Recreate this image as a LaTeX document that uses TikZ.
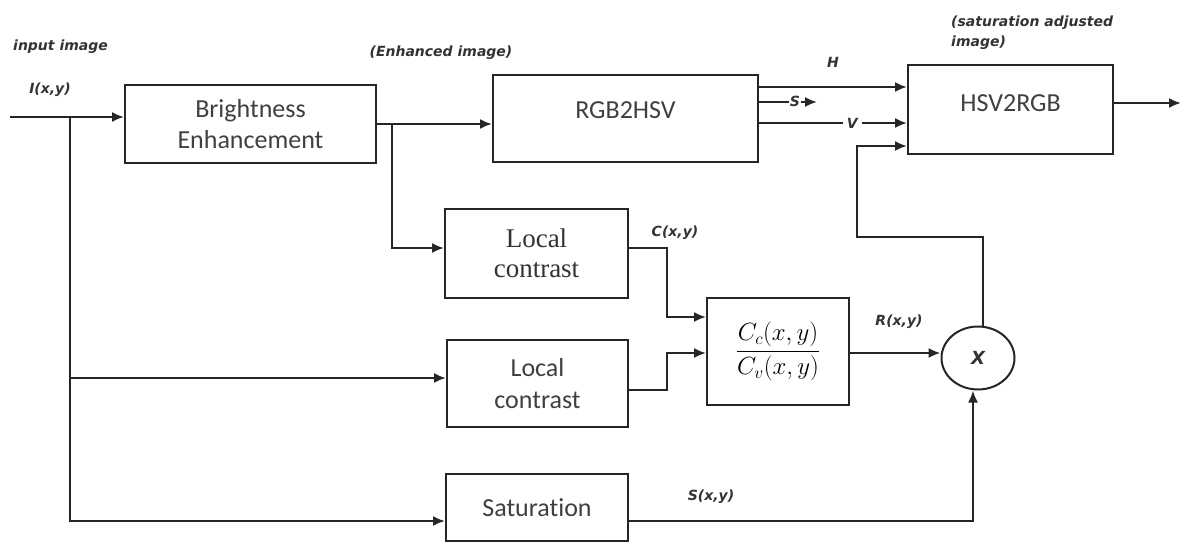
\documentclass[tikz,border=0pt]{standalone}
\usepackage[no-math]{fontspec}
\setmainfont{Carlito}[Ligatures=NoCommon]
\newfontfamily\lblfont{DejaVu Sans}
\newfontfamily\serffont{Liberation Serif}
\usetikzlibrary{arrows.meta,shapes.geometric}
\tikzset{
  ln/.style={line width=2pt, draw=black!85},
  arr/.style={ln, -{Latex[length=12pt,width=10pt]}},
  box/.style={draw=black!85, line width=2pt, inner sep=0pt, fill=white},
  txt/.style={font=\fontsize{26}{30}\selectfont, text=black!75},
  serif/.style={font=\serffont\fontsize{27}{30}\selectfont, text=black!80},
  lbl/.style={font=\lblfont\bfseries\itshape\fontsize{14}{16}\selectfont, text=black!80, inner sep=1pt},
}
\begin{document}
\begin{tikzpicture}[x=1pt,y=-1pt]
\useasboundingbox (0,0) rectangle (1181,555);
% boxes
\node[box, txt, minimum width=251pt, minimum height=78pt, align=center] (be) at (250.5,124) {Brightness\\[1pt]Enhancement};
\node[box, minimum width=265pt, minimum height=87pt] (rgb) at (625.5,118.5) {};
\node[txt] (rgbt) at (625.5,110) {RGB2HSV};
\node[box, minimum width=205pt, minimum height=89pt] (hsv) at (1010.5,109.5) {};
\node[txt] (hsvt) at (1010.5,103) {HSV2RGB};
\node[box, serif, minimum width=183pt, minimum height=89pt, align=center] (lc1) at (536.5,253.5) {Local\\[0pt]contrast};
\node[box, txt, minimum width=181pt, minimum height=87pt, align=center] (lc2) at (537.5,383.5) {Local\\[2pt]contrast};
\node[box, minimum width=142pt, minimum height=107pt, font=\fontsize{24}{28}\selectfont] (frac) at (778,351.5) {$\displaystyle\frac{C_c(x,y)}{C_v(x,y)}$};
\node[box, txt, minimum width=182pt, minimum height=67pt] (sat) at (537,507.5) {Saturation};
\node[draw=black!85, line width=2pt, ellipse, minimum width=73pt, minimum height=63pt, inner sep=0pt, font=\lblfont\bfseries\itshape\fontsize{18}{20}\selectfont, text=black!80] (mult) at (978,358) {X};
% coordinates
\coordinate (in) at (10,117);
\coordinate (j1) at (70,117);
\coordinate (j2) at (392,124);
\coordinate (out) at (1181,103);
% connectors
\draw[arr] (in) -- (be.west |- in);
\draw[arr] (j1) |- ([yshift=5.5pt]lc2.west);
\draw[arr] (j1) |- ([yshift=-13.5pt]sat.west);
\draw[arr] (be.east) -- (be.east -| rgb.west);
\draw[arr] (j2) |- ([yshift=5.5pt]lc1.west);
\draw[arr] (rgb.east |- 0,87) -- (hsv.west |- 0,87);
\draw[arr] (rgb.east |- 0,102) -- (817,102);
\draw[arr] (rgb.east |- 0,123) -- (hsv.west |- 0,123) node[lbl, pos=0.63, fill=white, inner xsep=4pt] (vlab) {V};
\draw[arr] ([xshift=5pt]mult.north) -- (983,237) -- (857,237) -- (857,146) -- (hsv.west |- 0,146);
\draw[arr] (hsv.east |- 0,103) -- (out);
\draw[arr] (lc1.east |- 0,248) -- (667,248) -- (667,317) -- (frac.west |- 0,317);
\draw[arr] (lc2.east |- 0,390) -- (667,390) -- (667,353) -- (frac.west |- 0,353);
\draw[arr] (frac.east |- 0,353) -- (mult.west |- 0,353);
\draw[arr] (sat.east |- 0,521) -| ([xshift=-5pt]mult.south);
% labels
\node[lbl, anchor=west] (l1) at (12,47) {input image};
\node[lbl] (l2) at (50,90) {I(x,y)};
\node[lbl] (l3) at (441,53) {(Enhanced image)};
\node[lbl] (l4) at (833,62) {H};
\node[lbl, fill=white] (l5) at (795,101) {S};
\node[lbl, anchor=west, align=left] (l6) at (950,33) {(saturation adjusted\\[4pt]image)};
\node[lbl] (l7) at (675,233) {C(x,y)};
\node[lbl] (l8) at (899,322) {R(x,y)};
\node[lbl] (l9) at (711,497) {S(x,y)};
\end{tikzpicture}
\end{document}
